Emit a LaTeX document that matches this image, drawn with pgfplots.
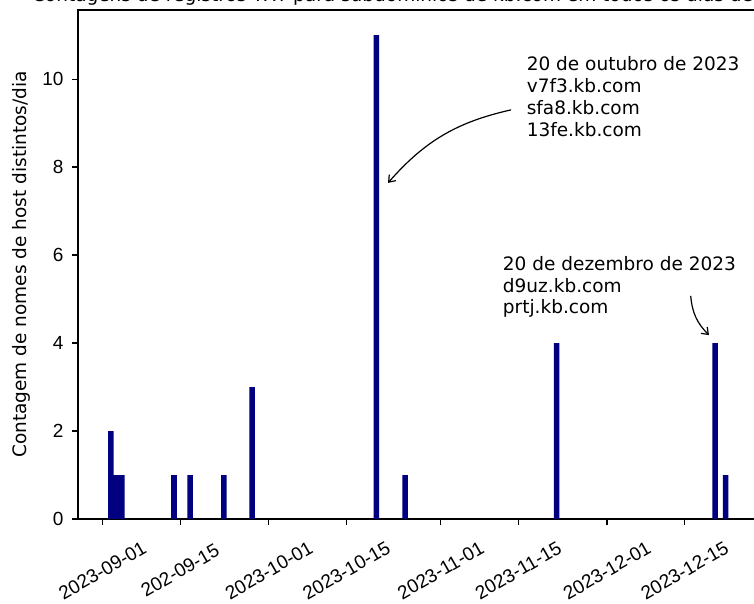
\documentclass[border=0pt]{standalone}
\usepackage{pgfplots}
\pgfplotsset{compat=1.18}
\usetikzlibrary{arrows.meta}
\usepackage{fontspec}
\setmainfont{DejaVu Sans}
\newfontfamily\tickfont{Liberation Sans}
\definecolor{barnavy}{RGB}{0,0,128}
\begin{document}
\begin{tikzpicture}[x=1pt,y=1pt]
\useasboundingbox (0,0) rectangle (754,604);
\clip (0,0) rectangle (754,604);
\begin{axis}[
  at={(78pt,85pt)}, anchor=south west,
  scale only axis, width=682pt, height=509pt,
  xmin=-4.42, xmax=118.6, ymin=0, ymax=11.57,
  ybar, bar width=1, bar shift=0pt,
  xtick={0,14,30,44,61,75,91,105},
  xticklabels={2023-09-01,202-09-15,2023-10-01,2023-10-15,2023-11-01,2023-11-15,2023-12-01,2023-12-15},
  ytick={0,2,4,6,8,10},
  tick pos=left, tick align=outside, major tick length=6pt,
  every tick/.style={black, line width=1.1pt},
  axis line style={line width=1.3pt},
  ticklabel style={font=\tickfont\fontsize{19}{21}\selectfont},
  /pgf/number format/assume math mode=true,
  xticklabel style={yshift=-45.5pt, rotate=30, anchor=center},
  yticklabel style={xshift=-5pt},
  ylabel={Contagem de nomes de host distintos/dia},
  every axis y label/.style={at={(axis description cs:-0.083,0.5)}, rotate=90, anchor=center, font=\fontsize{18.5}{20}\selectfont},
  title={Contagens de registros TXT para subdomínios de kb.com em todos os dias de 2023},
  every axis title/.style={at={(axis description cs:0.5,1)}, anchor=base, yshift=8pt, font=\fontsize{18.5}{20}\selectfont},
  clip=false,
]
\addplot[fill=barnavy, draw=none] coordinates {
  (1.5,2) (2.5,1) (3.5,1) (12.9,1) (15.8,1) (21.9,1) (27.0,3)
  (49.4,11) (54.6,1) (81.9,4) (110.5,4) (112.4,1)};
\begin{scope}[every node/.style={anchor=base west, inner sep=0pt, font=\fontsize{18.5}{20}\selectfont}]
\node at (axis cs:76.5,10.205) {20 de outubro de 2023};
\node at (axis cs:76.5,9.70) {v7f3.kb.com};
\node at (axis cs:76.5,9.20) {sfa8.kb.com};
\node at (axis cs:76.5,8.70) {13fe.kb.com};
\node at (axis cs:72.2,5.64) {20 de dezembro de 2023};
\node at (axis cs:72.2,5.14) {d9uz.kb.com};
\node at (axis cs:72.2,4.66) {prtj.kb.com};
\end{scope}
\draw[-{Straight Barb[length=6pt,width=9pt]}, line width=1.2pt] (axis cs:73.7,9.30) to[bend right=18] (axis cs:51.5,7.64);
\draw[-{Straight Barb[length=6pt,width=9pt]}, line width=1.2pt] (axis cs:106.1,5.07) to[bend right=20] (axis cs:109.4,4.18);
\end{axis}
\end{tikzpicture}
\end{document}
